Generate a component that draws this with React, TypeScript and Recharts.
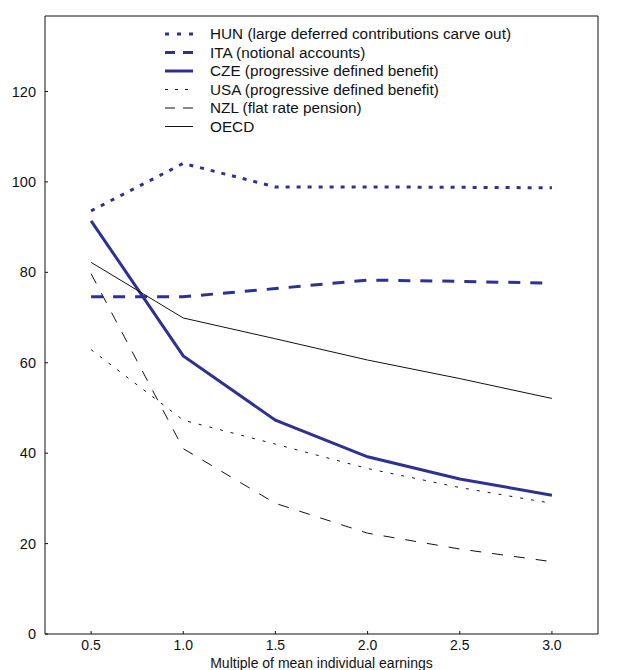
import React from 'react'
import {
  LineChart,
  Line,
  XAxis,
  YAxis,
  ReferenceLine,
} from 'recharts'

const earnings = [0.5, 1.0, 1.5, 2.0, 2.5, 3.0]
const hun = [93.6, 104.1, 98.9, 98.9, 98.8, 98.7]
const ita = [74.6, 74.6, 76.4, 78.3, 78.0, 77.6]
const cze = [91.4, 61.5, 47.3, 39.2, 34.3, 30.7]
const usa = [62.9, 47.3, 42.0, 36.6, 32.4, 28.9]
const nzl = [79.7, 41.0, 28.9, 22.3, 18.8, 16.0]
const oecd = [82.2, 69.9, 65.3, 60.6, 56.5, 52.1]

const yTicks = [0, 20, 40, 60, 80, 100, 120]
const xTicks = [0.5, 1.0, 1.5, 2.0, 2.5, 3.0]
const Y_MAX = 136.7

const BLUE = '#2e3192'
const FONT = '"Liberation Sans", Arial, Helvetica, sans-serif'

const series = [
  { key: 'hun', name: 'HUN (large deferred contributions carve out)', color: BLUE, width: 3, dash: '4 7', legendDash: '4 8' },
  { key: 'ita', name: 'ITA (notional accounts)', color: BLUE, width: 3, dash: '12 10', legendDash: '10 8' },
  { key: 'cze', name: 'CZE (progressive defined benefit)', color: BLUE, width: 3, dash: undefined, legendDash: undefined },
  { key: 'usa', name: 'USA (progressive defined benefit)', color: '#111', width: 1, dash: '3 8', legendDash: '3 7' },
  { key: 'nzl', name: 'NZL (flat rate pension)', color: '#111', width: 1, dash: '11 11', legendDash: '10 8' },
  { key: 'oecd', name: 'OECD', color: '#111', width: 1, dash: undefined, legendDash: undefined },
]

const data = earnings.map((x, i) => ({
  x,
  hun: hun[i],
  ita: ita[i],
  cze: cze[i],
  usa: usa[i],
  nzl: nzl[i],
  oecd: oecd[i],
}))

function LegendBox() {
  return (
    <svg
      width={633}
      height={150}
      style={{ position: 'absolute', left: 0, top: 0, pointerEvents: 'none' }}
    >
      {series.map((s, i) => {
        const cy = 34 + i * 18.5
        return (
          <g key={s.key}>
            <line
              x1={165}
              x2={193}
              y1={cy}
              y2={cy}
              stroke={s.color}
              strokeWidth={s.width}
              strokeDasharray={s.legendDash}
            />
            <text x={210} y={cy} dy="0.35em" fontSize={15.3} fontFamily={FONT} fill="#111">
              {s.name}
            </text>
          </g>
        )
      })}
    </svg>
  )
}

const LeftTick = (props: any) => {
  const { x, y, payload } = props
  return (
    <g>
      <line x1={x} x2={x + 3} y1={y} y2={y} stroke="#111" />
      <text x={x - 9} y={y} dy="0.35em" textAnchor="end" fontSize={14.5} fontFamily={FONT} fill="#111">
        {payload.value}
      </text>
    </g>
  )
}

const RightTick = (props: any) => {
  const { x, y, payload } = props
  return (
    <g>
      <line x1={x - 3} x2={x} y1={y} y2={y} stroke="#111" />
      <text x={x + 9} y={y} dy="0.35em" textAnchor="start" fontSize={14.5} fontFamily={FONT} fill="#111">
        {payload.value}
      </text>
    </g>
  )
}

const BottomTick = (props: any) => {
  const { x, y, payload } = props
  return (
    <g>
      <line x1={x} x2={x} y1={y - 3} y2={y} stroke="#111" />
      <text x={x} y={y + 11} dy="0.35em" textAnchor="middle" fontSize={14} fontFamily={FONT} fill="#111">
        {Number(payload.value).toFixed(1)}
      </text>
    </g>
  )
}

export default function App() {
  return (
    <div style={{ position: 'absolute', left: 0, top: 0, width: 633, height: 670, background: '#fff' }}>
      <LineChart
        width={633}
        height={670}
        data={data}
        margin={{ top: 16, right: 0, bottom: 0, left: 0 }}
      >
        <XAxis
          dataKey="x"
          type="number"
          domain={[0.25, 3.25]}
          ticks={xTicks}
          tickSize={0}
          tickMargin={0}
          tickLine={false}
          tick={<BottomTick />}
          stroke="#111"
          height={36}
          label={{
            value: 'Multiple of mean individual earnings',
            position: 'insideBottom',
            offset: 0,
            dy: -2,
            fontSize: 14,
            fontFamily: FONT,
            fill: '#111',
          }}
        />
        <YAxis
          type="number"
          domain={[0, Y_MAX]}
          ticks={yTicks}
          width={45}
          tickSize={0}
          tickMargin={0}
          tickLine={false}
          tick={<LeftTick />}
          stroke="#111"
        />
        <YAxis
          yAxisId="right"
          orientation="right"
          type="number"
          domain={[0, Y_MAX]}
          ticks={yTicks}
          width={35}
          tickSize={0}
          tickMargin={0}
          tickLine={false}
          tick={<RightTick />}
          stroke="#111"
        />
        <ReferenceLine y={Y_MAX} stroke="#111" strokeWidth={1} />
        {series.map((s) => (
          <Line
            key={s.key}
            dataKey={s.key}
            name={s.name}
            stroke={s.color}
            strokeWidth={s.width}
            strokeDasharray={s.dash}
            dot={false}
            activeDot={false}
            isAnimationActive={false}
          />
        ))}
      </LineChart>
      <LegendBox />
    </div>
  )
}
